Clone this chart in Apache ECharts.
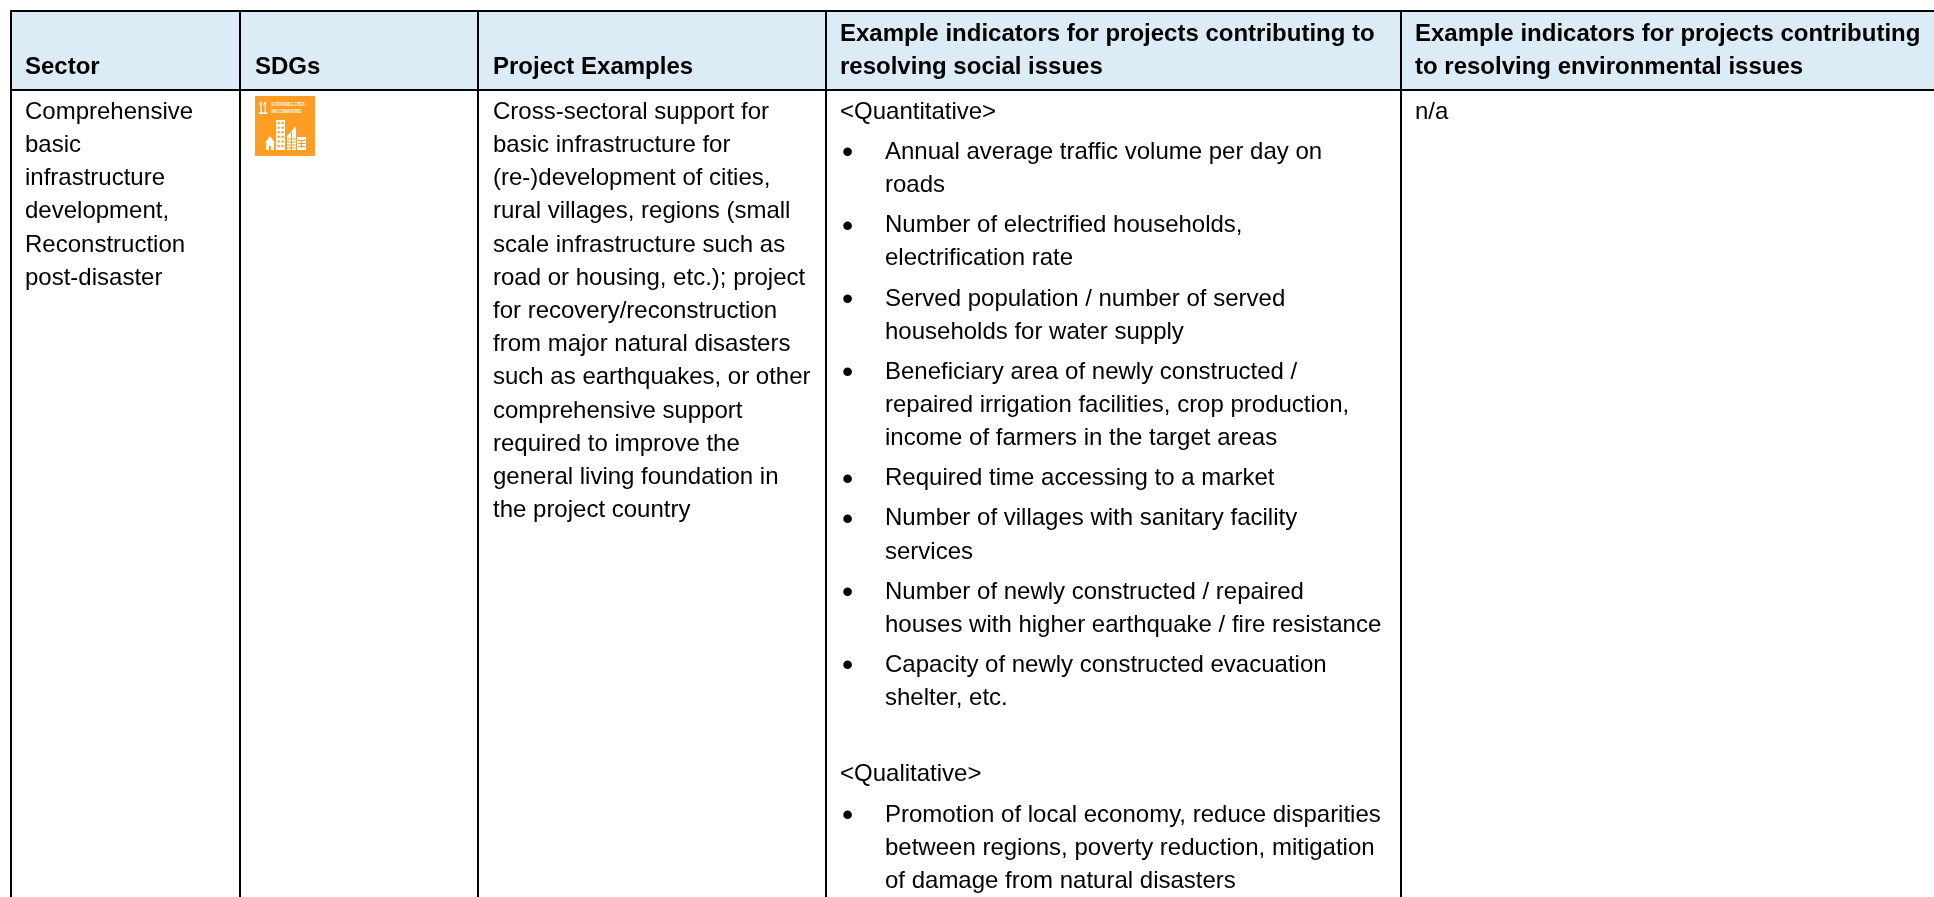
<!DOCTYPE html>
<html>
<head>
<meta charset="utf-8">
<title>Sector table</title>
<style>
  html, body { margin: 0; padding: 0; background: #fff; }
  #main { width: 1934px; height: 897px; }
</style>
<script src="https://cdn.jsdelivr.net/npm/echarts@6/dist/echarts.min.js"></script>
</head>
<body>
<div id="main"></div>
<script>
var headers = [
    ['Sector'],
    ['SDGs'],
    ['Project Examples'],
    ['Example indicators for projects contributing to', 'resolving social issues'],
    ['Example indicators for projects contributing', 'to resolving environmental issues']
];
var sectorLines = ['Comprehensive', 'basic', 'infrastructure', 'development,', 'Reconstruction', 'post-disaster'];
var projectLines = [
    'Cross-sectoral support for',
    'basic infrastructure for',
    '(re-)development of cities,',
    'rural villages, regions (small',
    'scale infrastructure such as',
    'road or housing, etc.); project',
    'for recovery/reconstruction',
    'from major natural disasters',
    'such as earthquakes, or other',
    'comprehensive support',
    'required to improve the',
    'general living foundation in',
    'the project country'
];
var quantitativeTitle = '<Quantitative>';
var quantitativeItems = [
    ['Annual average traffic volume per day on', 'roads'],
    ['Number of electrified households,', 'electrification rate'],
    ['Served population / number of served', 'households for water supply'],
    ['Beneficiary area of newly constructed /', 'repaired irrigation facilities, crop production,', 'income of farmers in the target areas'],
    ['Required time accessing to a market'],
    ['Number of villages with sanitary facility', 'services'],
    ['Number of newly constructed / repaired', 'houses with higher earthquake / fire resistance'],
    ['Capacity of newly constructed evacuation', 'shelter, etc.']
];
var qualitativeTitle = '<Qualitative>';
var qualitativeItems = [
    ['Promotion of local economy, reduce disparities', 'between regions, poverty reduction, mitigation', 'of damage from natural disasters']
];
var environmentalLines = ['n/a'];
var sdgNumber = '11';
var sdgLabel = ['SUSTAINABLE CITIES', 'AND COMMUNITIES'];

// layout
var W = 1934, H = 897;
var columnX = [10, 239, 477, 825, 1400];
var textX = [25, 255, 493, 840, 1415];
var bulletX = 842, itemX = 885;
var headerTop = 10, headerBottom = 89;
var firstBaseline = 118, lineHeight = 33.2, itemGap = 6.9, qualitativeGap = 43;
var family = '"Liberation Sans", Arial, sans-serif';
var ink = '#000000', tileColor = '#FD9D24';
var elements = [];

function addRect(x, y, w, h, fill) {
    elements.push({type: 'rect', silent: true, shape: {x: x, y: y, width: w, height: h}, style: {fill: fill}});
}
// y is the wanted baseline, text is placed by its middle
function addText(text, x, y, weight, size, fill, squeeze) {
    size = size || 24;
    elements.push({type: 'text', silent: true, x: x, y: y - size * 0.24, scaleX: squeeze || 1, style: {
        text: text, x: 0, y: 0,
        font: (weight || 'normal') + ' ' + size + 'px ' + family,
        fill: fill || ink, textVerticalAlign: 'middle', textAlign: 'left'
    }});
}
function addLines(lines, x, y) {
    lines.forEach(function (line, i) {
        addText(line, x, y + i * lineHeight);
    });
}
function addItems(items, y) {
    items.forEach(function (item) {
        addText('•', bulletX, y + 3, 'normal', 32);
        addLines(item, itemX, y);
        y += item.length * lineHeight + itemGap;
    });
    return y;
}

// header band and grid lines
addRect(columnX[0], headerTop, W - columnX[0], headerBottom - headerTop, '#DCECF7');
addRect(columnX[0], headerTop, W - columnX[0], 2, ink);
addRect(columnX[0], headerBottom, W - columnX[0], 2, ink);
columnX.forEach(function (x) {
    addRect(x, headerTop, 2, H - headerTop, ink);
});

// header text, last line sits on the same baseline in every column
headers.forEach(function (lines, c) {
    lines.forEach(function (line, i) {
        addText(line, textX[c], 73 - (lines.length - 1 - i) * lineHeight, 'bold');
    });
});

// body cells
addLines(sectorLines, textX[0], firstBaseline);
addLines(projectLines, textX[2], firstBaseline);
addLines(environmentalLines, textX[4], firstBaseline);
addText(quantitativeTitle, textX[3], firstBaseline);
var nextY = addItems(quantitativeItems, firstBaseline + lineHeight + itemGap);
nextY += qualitativeGap - itemGap;
addText(qualitativeTitle, textX[3], nextY);
addItems(qualitativeItems, nextY + lineHeight + itemGap);

// SDG 11 tile
var tx = 255, ty = 96;
addRect(tx, ty, 60, 60, tileColor);
addText(sdgNumber, tx + 3.5, ty + 17, 'bold', 16, '#fff', 0.52);
sdgLabel.forEach(function (line, i) {
    addText(line, tx + 16, ty + 10 + i * 7, 'bold', 5.5, '#fff', 0.58);
});
// house
elements.push({type: 'polygon', silent: true, shape: {points: [[tx + 10, ty + 47], [tx + 15, ty + 40], [tx + 20, ty + 47]]}, style: {fill: '#fff'}});
addRect(tx + 11, ty + 47, 8, 7, '#fff');
addRect(tx + 14, ty + 50, 2, 4, tileColor);
// tower with windows
addRect(tx + 21, ty + 24, 9, 30, '#fff');
for (var r = 0; r < 6; r++) {
    addRect(tx + 22.5, ty + 26 + r * 4.6, 2.2, 2.2, tileColor);
    addRect(tx + 26.5, ty + 26 + r * 4.6, 2.2, 2.2, tileColor);
}
// sloped building
elements.push({type: 'polygon', silent: true, shape: {points: [[tx + 32, ty + 54], [tx + 32, ty + 40], [tx + 41, ty + 30], [tx + 41, ty + 54]]}, style: {fill: '#fff'}});
for (var s = 0; s < 4; s++) {
    addRect(tx + 32, ty + 42.5 + s * 3, 9, 1, tileColor);
}
addRect(tx + 36, ty + 36, 1, 18, tileColor);
// low building
addRect(tx + 42, ty + 41, 9, 13, '#fff');
addRect(tx + 43, ty + 44, 7, 1, tileColor);
addRect(tx + 43, ty + 47, 7, 1, tileColor);
addRect(tx + 43, ty + 50, 7, 1, tileColor);
addRect(tx + 46, ty + 44, 1, 8, tileColor);

var myChart = echarts.init(document.getElementById('main'), null, {renderer: 'canvas'});
myChart.setOption({
    backgroundColor: '#ffffff',
    animation: false,
    graphic: {elements: elements}
});
</script>
</body>
</html>
